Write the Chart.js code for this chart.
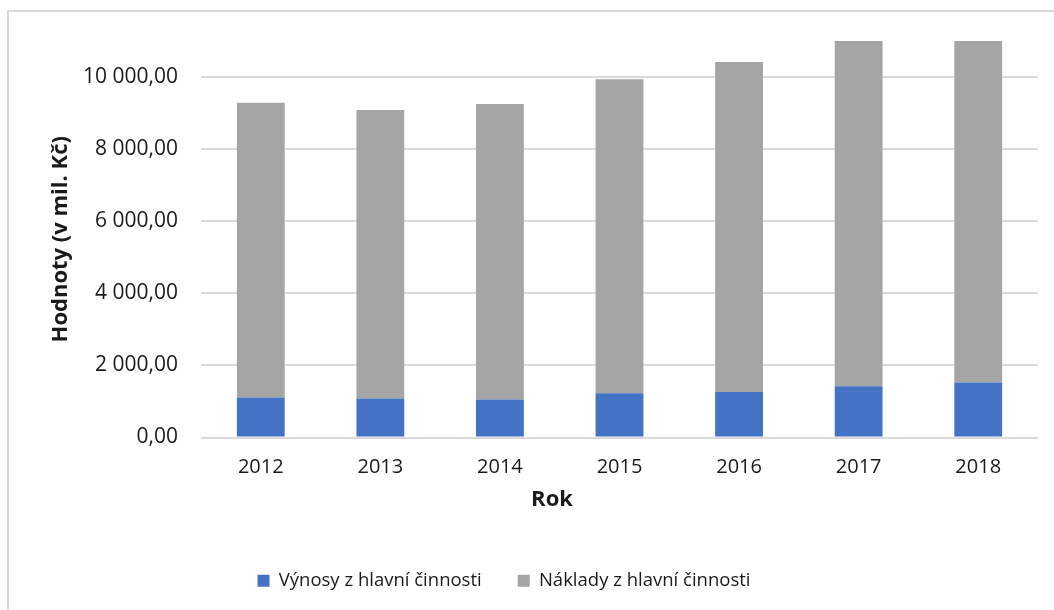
<!DOCTYPE html>
<html>
<head>
<meta charset="utf-8">
<script src="https://cdn.jsdelivr.net/npm/chart.js@4/dist/chart.umd.min.js"></script>
<style>
  html, body { margin: 0; padding: 0; background: #fff; overflow: hidden; }
  .frame {
    position: absolute; left: 7px; top: 10px; width: 1060px; height: 610px;
    border-left: 2px solid #d9d9d9; border-top: 2px solid #d9d9d9;
  }
  #chart { position: absolute; left: 0; top: 0; }
</style>
</head>
<body>
<div class="frame"></div>
<canvas id="chart" width="1054" height="610"></canvas>
<script>
// values in mil. Kč
const years = ['2012', '2013', '2014', '2015', '2016', '2017', '2018'];
const vynosy = [1111, 1083, 1055, 1231, 1259, 1425, 1528];
// stacked on top of the revenues (2017 and 2018 run past the axis max)
const naklady = [8175, 8000, 8195, 8705, 9158, 10200, 10100];
const yTicks = [0, 2000, 4000, 6000, 8000, 10000];

const FONT = '"Open Sans", "Liberation Sans", sans-serif';
const TEXT = '#1a1a1a';

// Czech number format: "10 000,00"
function formatCz(v) {
    const parts = v.toFixed(2).split('.');
    const int = parts[0].replace(/\B(?=(\d{3})+(?!\d))/g, ' ');
    return int + ',' + parts[1];
}

// x axis title sits left of the plot centre in the original
const axisTitle = {
    id: 'axisTitle',
    afterDraw(chart) {
        const ctx = chart.ctx;
        ctx.save();
        ctx.font = 'bold 22px ' + FONT;
        ctx.fillStyle = TEXT;
        ctx.textAlign = 'center';
        ctx.textBaseline = 'middle';
        ctx.fillText('Rok', 552, 500);
        ctx.restore();
    }
};

// nudge the legend to where it sits in the reference
const legendShift = {
    id: 'legendShift',
    afterLayout(chart) {
        const lg = chart.legend;
        if (!lg) return;
        const dx = -15;
        lg.left += dx;
        lg.right += dx;
        if (lg.legendHitBoxes) lg.legendHitBoxes.forEach(b => { b.left += dx; });
    }
};

new Chart(document.getElementById('chart'), {
    type: 'bar',
    data: {
        labels: years,
        datasets: [
            {
                label: 'Výnosy z hlavní činnosti',
                data: vynosy,
                backgroundColor: '#4472C4',
                borderWidth: 0
            },
            {
                label: 'Náklady z hlavní činnosti',
                data: naklady,
                backgroundColor: '#A5A5A5',
                borderWidth: 0
            }
        ]
    },
    options: {
        responsive: false,
        animation: false,
        devicePixelRatio: 1,
        layout: { padding: { top: 41, right: 16, bottom: 10, left: 0 } },
        datasets: { bar: { categoryPercentage: 1, barPercentage: 0.4 } },
        plugins: {
            tooltip: { enabled: false },
            legend: {
                position: 'bottom',
                labels: {
                    font: { family: FONT, size: 18.5 },
                    color: TEXT,
                    boxWidth: 12,
                    boxHeight: 12,
                    padding: 36
                }
            }
        },
        scales: {
            x: {
                stacked: true,
                grid: { display: false, drawTicks: false },
                border: { display: false },
                ticks: {
                    font: { family: FONT, size: 20 },
                    color: TEXT,
                    padding: 18,
                    maxRotation: 0
                },
                afterFit: s => { s.height = 98; }
            },
            y: {
                stacked: true,
                min: 0,
                max: 11000,
                afterBuildTicks: s => { s.ticks = yTicks.map(v => ({ value: v })); },
                grid: { color: '#d9d9d9', lineWidth: 2, drawTicks: false },
                border: { display: false },
                ticks: {
                    font: { family: FONT, size: 21 },
                    color: TEXT,
                    padding: 23,
                    callback: v => formatCz(v)
                },
                title: {
                    display: true,
                    text: 'Hodnoty (v mil. Kč)',
                    font: { family: FONT, size: 22, weight: 'bold' },
                    color: TEXT,
                    padding: { top: 48, bottom: 0 }
                },
                afterFit: s => { s.width = 201; }
            }
        }
    },
    plugins: [axisTitle, legendShift]
});
</script>
</body>
</html>
